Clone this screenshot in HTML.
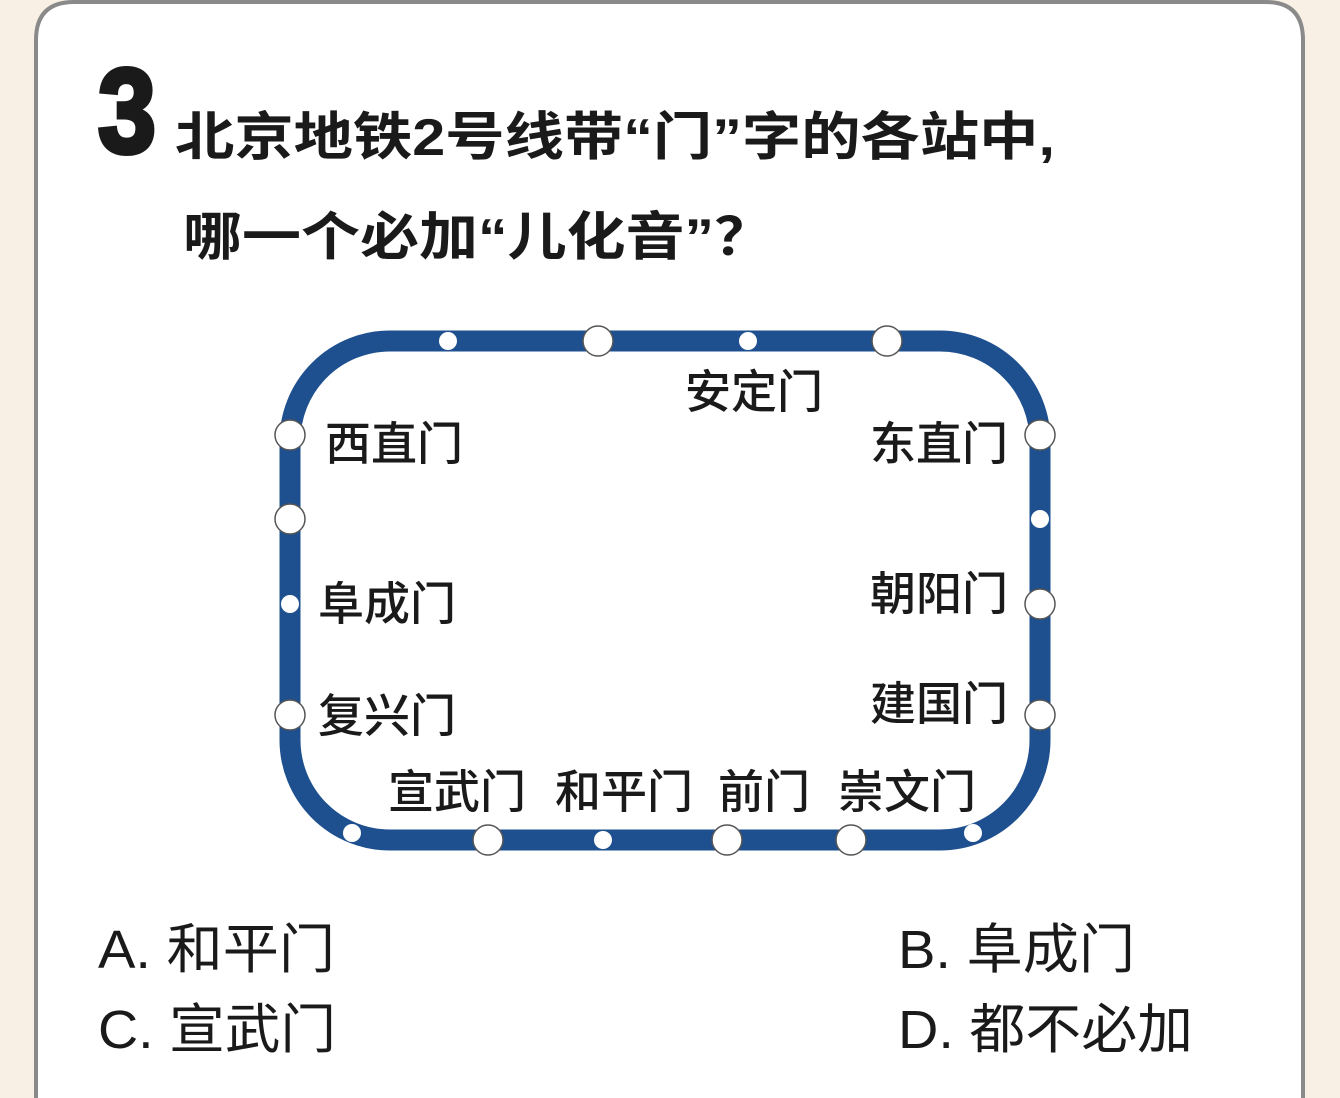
<!DOCTYPE html>
<html><head><meta charset="utf-8"><style>
html,body{margin:0;padding:0;width:1340px;height:1098px;overflow:hidden;background:#f8f0e4;}
svg{display:block}
text{font-family:"Liberation Sans","Noto Sans CJK SC",sans-serif;fill:#1a1a1a;}
</style></head><body>
<svg width="1340" height="1098" viewBox="0 0 1340 1098">
<path d="M36,1100 L36,40 Q36,2 74,2 L1266,2 Q1303,2 1303,40 L1303,1100" fill="#fff" stroke="#8a8a8a" stroke-width="4"/>
<text x="98" y="152" font-size="120" font-weight="bold" stroke="#1a1a1a" stroke-width="5" textLength="58" lengthAdjust="spacingAndGlyphs">3</text>
<text x="175" y="155" font-size="52" font-weight="bold" textLength="880" lengthAdjust="spacingAndGlyphs">北京地铁2号线带“门”字的各站中,</text>
<text x="183" y="255" font-size="52" font-weight="bold" textLength="590" lengthAdjust="spacingAndGlyphs">哪一个必加“儿化音”？</text>
<rect x="290" y="341" width="750" height="499" rx="100" ry="100" fill="none" stroke="#1e4f8e" stroke-width="21"/>
<g fill="#fff" stroke="#555" stroke-width="1.5">
<circle cx="598" cy="341" r="15"/><circle cx="887" cy="341" r="15"/>
<circle cx="290" cy="435" r="15"/><circle cx="290" cy="519" r="15"/><circle cx="290" cy="715" r="15"/>
<circle cx="1040" cy="435" r="15"/><circle cx="1040" cy="604" r="15"/><circle cx="1040" cy="715" r="15"/>
<circle cx="488" cy="840" r="15"/><circle cx="727" cy="840" r="15"/><circle cx="851" cy="840" r="15"/>
</g>
<g fill="#fff">
<circle cx="448" cy="341" r="9"/><circle cx="748" cy="341" r="9"/>
<circle cx="290" cy="604" r="9"/><circle cx="1040" cy="519" r="9"/>
<circle cx="352" cy="833" r="9"/><circle cx="603" cy="840" r="9"/><circle cx="973" cy="833" r="9"/>
</g>
<g font-size="46" font-weight="500">
<text x="685" y="408">安定门</text>
<text x="325" y="460">西直门</text>
<text x="870" y="460">东直门</text>
<text x="318" y="620">阜成门</text>
<text x="870" y="610">朝阳门</text>
<text x="318" y="732">复兴门</text>
<text x="870" y="720">建国门</text>
<text x="388" y="808">宣武门</text>
<text x="555" y="808">和平门</text>
<text x="718" y="808">前门</text>
<text x="838" y="808">崇文门</text>
</g>
<g font-size="54">
<text x="98" y="968" textLength="237" lengthAdjust="spacingAndGlyphs">A. 和平门</text>
<text x="898" y="968" textLength="237" lengthAdjust="spacingAndGlyphs">B. 阜成门</text>
<text x="98" y="1048" textLength="238" lengthAdjust="spacingAndGlyphs">C. 宣武门</text>
<text x="898" y="1048" textLength="295" lengthAdjust="spacingAndGlyphs">D. 都不必加</text>
</g>
</svg>
</body></html>
